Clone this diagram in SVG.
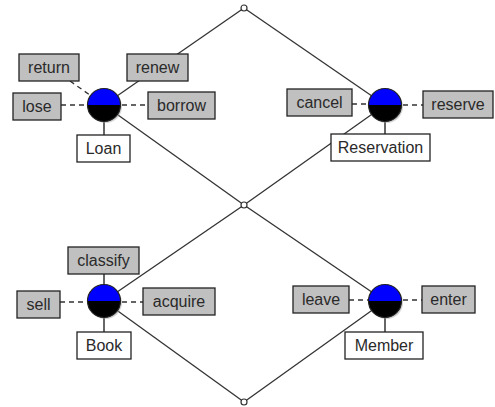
<svg xmlns="http://www.w3.org/2000/svg" width="495" height="407" viewBox="0 0 495 407">
  <style>
    .edge { stroke: #333; stroke-width: 1.3; fill: none; }
    .dash { stroke: #333; stroke-width: 1.3; fill: none; stroke-dasharray: 5 4; }
    .tick { stroke: #333; stroke-width: 1.5; }
    .op { fill: #c0c0c0; stroke: #222; stroke-width: 1.3; }
    .lbl { fill: #fff; stroke: #222; stroke-width: 1.3; }
    .t { font-family: "Liberation Sans", Arial, sans-serif; font-size: 16px; fill: #2a2a2a; text-anchor: middle; }
    .pt { fill: #fff; stroke: #333; stroke-width: 1.2; }
    .ring { fill: none; stroke: #222; stroke-width: 1.2; }
  </style>
  <defs>
    <!-- class glyph: blue upper half over black lower half -->
    <g id="cls">
      <circle cx="1.5" cy="1.5" r="16.5" fill="#999" opacity="0.45"/>
      <path d="M -16.5 0 A 16.5 16.5 0 0 1 16.5 0 Z" fill="#0000ff"/>
      <path d="M -16.5 0 A 16.5 16.5 0 0 0 16.5 0 Z" fill="#000"/>
      <circle r="16.5" class="ring"/>
    </g>
  </defs>

  <rect width="495" height="407" fill="#fff"/>

  <!-- lattice connectors -->
  <g id="connectors">
    <line class="edge" x1="244" y1="8" x2="104" y2="105"/>
    <line class="edge" x1="244" y1="8" x2="385" y2="105"/>
    <line class="edge" x1="104" y1="105" x2="244" y2="205"/>
    <line class="edge" x1="385" y1="105" x2="244" y2="205"/>
    <line class="edge" x1="244" y1="205" x2="104" y2="301"/>
    <line class="edge" x1="244" y1="205" x2="385" y2="301"/>
    <line class="edge" x1="104" y1="301" x2="244" y2="402"/>
    <line class="edge" x1="385" y1="301" x2="244" y2="402"/>

    <!-- attachments of operation boxes -->
    <line class="dash" x1="70" y1="81" x2="104" y2="105"/>
    <line class="dash" x1="61" y1="105" x2="104" y2="105"/>
    <line class="dash" x1="104" y1="105" x2="148" y2="105"/>
    <line class="tick" x1="104" y1="105" x2="104" y2="135"/>

    <line class="dash" x1="352" y1="104" x2="385" y2="104"/>
    <line class="dash" x1="385" y1="105" x2="423" y2="105"/>
    <line class="tick" x1="385" y1="105" x2="385" y2="134"/>

    <line class="tick" x1="104" y1="274" x2="104" y2="301"/>
    <line class="dash" x1="60" y1="302" x2="104" y2="302"/>
    <line class="dash" x1="104" y1="302" x2="143" y2="302"/>
    <line class="tick" x1="104" y1="301" x2="104" y2="332"/>

    <line class="dash" x1="349" y1="300" x2="385" y2="300"/>
    <line class="dash" x1="385" y1="300" x2="422" y2="300"/>
    <line class="tick" x1="385" y1="301" x2="385" y2="332"/>
  </g>

  <!-- lattice points -->
  <g id="top"><circle class="pt" cx="244" cy="8" r="3"/></g>
  <g id="middle"><circle class="pt" cx="244" cy="205" r="3"/></g>
  <g id="bottom"><circle class="pt" cx="244" cy="402" r="3"/></g>

  <!-- Loan -->
  <g id="loan">
    <use href="#cls" x="104" y="105"/>
    <rect class="lbl" x="77" y="135" width="53" height="27"/>
    <text class="t" x="103.5" y="154">Loan</text>
  </g>
  <g id="op-return">
    <rect class="op" x="19" y="54" width="60" height="27"/>
    <text class="t" x="49" y="73">return</text>
  </g>
  <g id="op-renew">
    <rect class="op" x="127" y="54" width="61" height="27"/>
    <text class="t" x="157.5" y="73">renew</text>
  </g>
  <g id="op-lose">
    <rect class="op" x="13" y="93" width="48" height="27"/>
    <text class="t" x="37" y="112">lose</text>
  </g>
  <g id="op-borrow">
    <rect class="op" x="148" y="92" width="67" height="27"/>
    <text class="t" x="181.5" y="111">borrow</text>
  </g>

  <!-- Reservation -->
  <g id="reservation">
    <use href="#cls" x="385" y="105"/>
    <rect class="lbl" x="331" y="134" width="99" height="27"/>
    <text class="t" x="380.5" y="153">Reservation</text>
  </g>
  <g id="op-cancel">
    <rect class="op" x="287" y="89" width="65" height="27"/>
    <text class="t" x="319.5" y="108">cancel</text>
  </g>
  <g id="op-reserve">
    <rect class="op" x="423" y="91" width="70" height="27"/>
    <text class="t" x="458" y="110">reserve</text>
  </g>

  <!-- Book -->
  <g id="book">
    <use href="#cls" x="104" y="301"/>
    <rect class="lbl" x="77" y="332" width="54" height="27"/>
    <text class="t" x="104" y="351">Book</text>
  </g>
  <g id="op-classify">
    <rect class="op" x="68" y="247" width="71" height="27"/>
    <text class="t" x="103.5" y="266">classify</text>
  </g>
  <g id="op-sell">
    <rect class="op" x="17" y="291" width="43" height="27"/>
    <text class="t" x="38.5" y="310">sell</text>
  </g>
  <g id="op-acquire">
    <rect class="op" x="143" y="288" width="72" height="27"/>
    <text class="t" x="179" y="307">acquire</text>
  </g>

  <!-- Member -->
  <g id="member">
    <use href="#cls" x="385" y="301"/>
    <rect class="lbl" x="345" y="332" width="78" height="27"/>
    <text class="t" x="384" y="351">Member</text>
  </g>
  <g id="op-leave">
    <rect class="op" x="293" y="286" width="56" height="27"/>
    <text class="t" x="321" y="305">leave</text>
  </g>
  <g id="op-enter">
    <rect class="op" x="422" y="286" width="53" height="27"/>
    <text class="t" x="448.5" y="305">enter</text>
  </g>
</svg>
